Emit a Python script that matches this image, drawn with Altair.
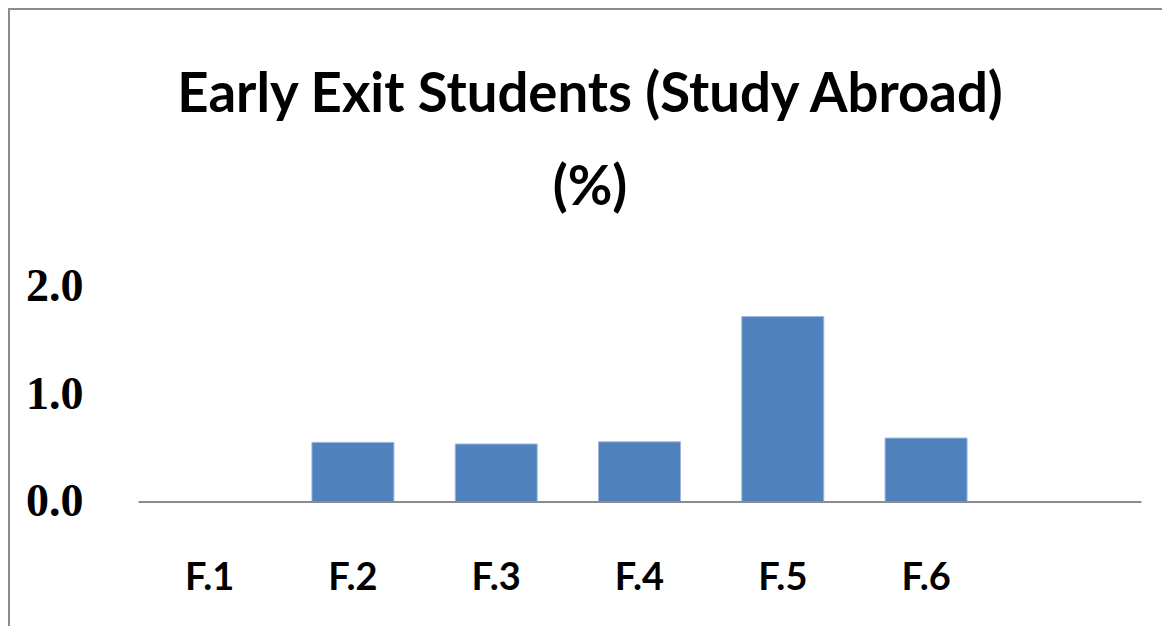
import altair as alt
import pandas as pd

categories = ["F.1", "F.2", "F.3", "F.4", "F.5", "F.6"]
values = [0.0, 0.55, 0.535, 0.555, 1.72, 0.59]
x_domain = categories + [""]
y_ticks = [0.0, 1.0, 2.0]
title_lines = ["Early Exit Students (Study Abroad)", "(%)"]

df = pd.DataFrame({"grade": categories, "pct": values})
one = pd.DataFrame({"k": [0]})

bars = alt.Chart(df).mark_bar(color="#4F81BD", stroke="#9BB7DC", strokeWidth=1).encode(
    x=alt.X(
        "grade:N",
        sort=x_domain,
        scale=alt.Scale(domain=x_domain, paddingInner=0.428, paddingOuter=0.214),
        axis=alt.Axis(
            title=None, labelAngle=0, ticks=False, tickSize=0,
            domainColor="#8C8C8C", domainWidth=2,
            labelFont="Lato", labelFontWeight="bold",
            labelFontSize=38, labelColor="black", labelPadding=77,
            labelBaseline="middle", zindex=1,
        ),
    ),
    y=alt.Y(
        "pct:Q",
        scale=alt.Scale(domain=[0, 2], nice=False),
        axis=alt.Axis(
            title=None, values=y_ticks, format=".1f", domain=False, ticks=False,
            tickSize=0, grid=False, labelFont="Liberation Serif",
            labelFontWeight="bold", labelFontSize=46, labelColor="black",
            labelPadding=55,
        ),
    ),
)

title_mark = alt.Chart(one).mark_text(
    font="Lato", fontWeight="bold", fontSize=54.5, color="black",
    align="center", baseline="alphabetic", lineHeight=93,
).encode(
    x=alt.value(452), y=alt.value(-174.5), text=alt.value(title_lines)
)

top_border = alt.Chart(one).mark_rule(color="#8C8C8C", strokeWidth=3).encode(
    x=alt.value(-130), x2=alt.value(1024), y=alt.value(-278)
)
left_border = alt.Chart(one).mark_rule(color="#8C8C8C", strokeWidth=3).encode(
    x=alt.value(-129.5), y=alt.value(-278.5), y2=alt.value(340)
)

chart = alt.layer(bars, title_mark, top_border, left_border).properties(
    width=1003,
    height=215,
    padding={"left": 130, "top": 278.5, "right": 21, "bottom": 124.5},
    autosize=alt.AutoSizeParams(type="none"),
).configure_view(stroke=None)

chart.save("out.html", embed_options={"renderer": "svg", "actions": False})
